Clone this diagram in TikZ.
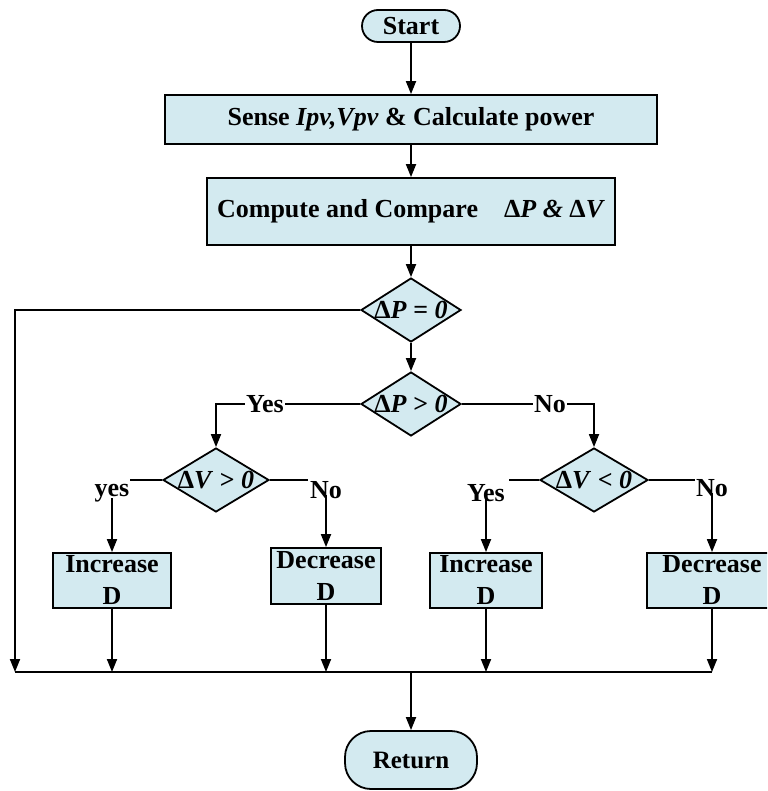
\documentclass[tikz,border=0pt]{standalone}
\usepackage{fontspec}
\setmainfont{Liberation Serif}
\usepackage{graphicx}
\usetikzlibrary{shapes.geometric,arrows.meta}
\definecolor{fillc}{HTML}{D3EAF0}
\newcommand\setfs[1]{\fontsize{#1}{#1}\selectfont}
\newcommand\diatext[1]{\smash{\makebox[0pt]{\raisebox{-0.33em}{#1}}}}
\begin{document}
\begin{tikzpicture}[x=1pt,y=-1pt,
  every node/.style={font=\bfseries\setfs{26}},
  proc/.style={draw,line width=1.8pt,fill=fillc,inner sep=0pt,align=center},
  term/.style={draw,line width=1.8pt,fill=fillc,inner sep=0pt,rounded corners=#1},
  dia/.style={draw,diamond,line width=1.8pt,fill=fillc,inner sep=0pt},
  arr/.style={-{Triangle[length=13pt,width=10pt]},line width=1.8pt},
  ln/.style={line width=1.8pt},
  lbl/.style={fill=white,inner sep=1pt}]
\useasboundingbox (0,0) rectangle (767,791);
\clip (0,0) rectangle (767,791);
\node[term=16pt,minimum width=98pt,minimum height=32pt] (start) at (411,26) {Start};
\node[proc,minimum width=492pt,minimum height=49pt] (sense) at (411,119.5) {Sense \textit{Ipv,Vpv} \& Calculate power};
\node[proc,minimum width=408pt,minimum height=67pt] (comp) at (411,211.5) {Compute and Compare\quad Δ\textit{P \& }Δ\textit{V}};
\node[dia,minimum width=100pt,minimum height=64pt] (d1) at (411,310) {\diatext{Δ\textit{P} = \textit{0}}};
\node[dia,minimum width=100pt,minimum height=64pt] (d2) at (411,404) {\diatext{Δ\textit{P} > \textit{0}}};
\node[dia,minimum width=106pt,minimum height=64pt] (d3) at (216,480) {\diatext{Δ\textit{V} > \textit{0}}};
\node[dia,minimum width=108pt,minimum height=64pt] (d4) at (594,480) {\diatext{Δ\textit{V} < \textit{0}}};
\node[proc,minimum width=118pt,minimum height=55pt] (inc1) at (112,580.5) {Increase\\[6pt]D};
\node[proc,minimum width=110pt,minimum height=56pt] (dec1) at (326,576) {Decrease\\[6pt]D};
\node[proc,minimum width=112pt,minimum height=55pt] (inc2) at (486,580.5) {Increase\\[6pt]D};
\node[proc,minimum width=130pt,minimum height=55pt] (dec2) at (712,580.5) {Decrease\\[6pt]D};
\node[term=26pt,minimum width=132pt,minimum height=58pt,font=\bfseries\setfs{25}] (ret) at (411,760) {Return};
% labels
\node[inner sep=0pt] (y3) at (112,493) {yes};
\node[inner sep=0pt] (n3) at (326,490) {No};
\node[inner sep=0pt] (y4) at (486,493) {Yes};
\node[inner sep=0pt] (n4) at (712,488) {No};
\coordinate (c3l) at (130,480);
\coordinate (c3r) at (308,480);
\coordinate (c4l) at (509,480);
\coordinate (c4r) at (695,480);
\coordinate (b0) at (15,672);
% connectors
\draw[arr] (start) -- (sense);
\draw[arr] (sense) -- (comp);
\draw[arr] (comp) -- (d1);
\draw[arr] (d1) -- (d2);
\draw[arr] (d1.west) -| (b0);
\draw[arr] (d2.west) -| (d3.north);
\draw[arr] (d2.east) -| (d4.north);
\node[lbl] (yes2) at (265,404) {Yes};
\node[lbl] (no2) at (550,404) {No};
\draw[ln] (d3.west) -- (c3l);
\draw[ln] (d3.east) -- (c3r);
\draw[ln] (d4.west) -- (c4l);
\draw[ln] (d4.east) -- (c4r);
\draw[arr] ([yshift=4pt]inc1.north |- y3.south) -- (inc1.north);
\draw[arr] ([yshift=4pt]dec1.north |- n3.south) -- (dec1.north);
\draw[arr] ([yshift=4pt]inc2.north |- y4.south) -- (inc2.north);
\draw[arr] ([yshift=4pt]dec2.north |- n4.south) -- (dec2.north);
\draw[arr] (inc1.south) -- (inc1.south |- b0);
\draw[arr] (dec1.south) -- (dec1.south |- b0);
\draw[arr] (inc2.south) -- (inc2.south |- b0);
\draw[arr] (dec2.south) -- (dec2.south |- b0);
\draw[ln] (b0) -- (dec2.south |- b0);
\draw[arr] (ret.north |- b0) -- (ret.north);
\end{tikzpicture}
\end{document}
